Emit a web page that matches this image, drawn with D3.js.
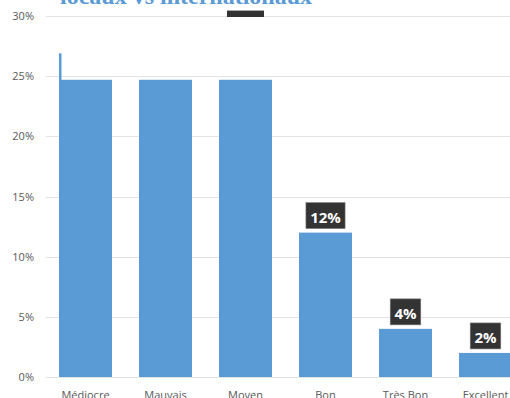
<!DOCTYPE html>
<html>
<head>
<meta charset="utf-8">
<script src="https://cdn.jsdelivr.net/npm/d3@7"></script>
<style>
  body { margin: 0; background: #fff; }
  svg { display: block; }
</style>
</head>
<body>
<div id="chart"></div>
<script>
var categories = ["Médiocre", "Mauvais", "Moyen", "Bon", "Très Bon", "Excellent"];
var values = [24.7, 24.7, 24.7, 12, 4, 2];
var labels = ["", "", "", "12%", "4%", "2%"];
var tickValues = [0, 5, 10, 15, 20, 25, 30];
var titleText = "locaux vs internationaux";

var width = 510, height = 398;

var svg = d3.select("#chart")
  .append("svg")
  .attr("width", width)
  .attr("height", height);

var x = d3.scaleBand()
  .domain(categories)
  .range([45.5, 525.5])
  .paddingInner(0.3375)
  .paddingOuter(0.16875);

var y = d3.scaleLinear()
  .domain([0, 30])
  .range([377, 16]);

// gridlines
svg.append("g")
  .selectAll("line")
  .data(tickValues)
  .enter()
  .append("line")
    .attr("x1", 46)
    .attr("x2", width)
    .attr("y1", d => Math.round(y(d)) + 0.5)
    .attr("y2", d => Math.round(y(d)) + 0.5)
    .attr("stroke", "#e3e3e3")
    .attr("stroke-width", 1);

// y tick labels
svg.append("g")
  .selectAll("text")
  .data(tickValues)
  .enter()
  .append("text")
    .attr("x", 34)
    .attr("y", d => y(d) + 4)
    .attr("text-anchor", "end")
    .style("font-family", "'Open Sans', sans-serif")
    .style("font-size", "11px")
    .style("fill", "#595959")
    .text(d => d + "%");

// title (mostly cut off at top)
svg.append("text")
  .attr("x", 60)
  .attr("y", 3.5)
  .style("font-family", "'Liberation Serif', serif")
  .style("font-weight", "bold")
  .style("font-size", "24px")
  .style("fill", "#5b9bd5")
  .text(titleText);

// bars
svg.selectAll("rect.bar")
  .data(values)
  .enter()
  .append("rect")
    .attr("class", "bar")
    .attr("x", (d, i) => x(categories[i]))
    .attr("y", d => y(d))
    .attr("width", x.bandwidth())
    .attr("height", d => y(0) - y(d))
    .style("fill", "#5b9bd5");

// thin leftover strip on the first bar
svg.append("rect")
  .attr("x", x(categories[0]))
  .attr("y", y(26.9))
  .attr("width", 2.5)
  .attr("height", y(0) - y(26.9))
  .style("fill", "#5b9bd5");

// leftover label box on Moyen (cut at top)
svg.append("rect")
  .attr("x", x(categories[2]) + 8)
  .attr("y", y(30.45))
  .attr("width", 37)
  .attr("height", y(30) - y(30.45) + 1)
  .style("fill", "#333333");

// data labels
var lab = svg.append("g")
  .selectAll("g")
  .data(values.map((v, i) => ({v: v, c: categories[i], t: labels[i]})).filter(d => d.t))
  .enter()
  .append("g");

lab.each(function(d) {
  var g = d3.select(this);
  var cx = x(d.c) + x.bandwidth() / 2;
  var txt = g.append("text")
    .attr("x", cx)
    .attr("y", y(d.v) - 10)
    .attr("text-anchor", "middle")
    .style("font-family", "'Open Sans', sans-serif")
    .style("font-weight", "bold")
    .style("font-size", "15px")
    .style("fill", "#ffffff")
    .text(d.t);
  var bb = txt.node().getBBox();
  var w = bb.width + 8;
  g.insert("rect", "text")
    .attr("x", cx - w / 2)
    .attr("y", y(d.v) - 30)
    .attr("width", w)
    .attr("height", 26)
    .style("fill", "#333333")
    .style("stroke", "#7f7f7f")
    .style("stroke-width", 0.6);
});

// category labels
svg.append("g")
  .selectAll("text")
  .data(categories)
  .enter()
  .append("text")
    .attr("x", d => x(d) + x.bandwidth() / 2)
    .attr("y", 399)
    .attr("text-anchor", "middle")
    .style("font-family", "'Open Sans', sans-serif")
    .style("font-size", "11px")
    .style("fill", "#595959")
    .text(d => d);
</script>
</body>
</html>
